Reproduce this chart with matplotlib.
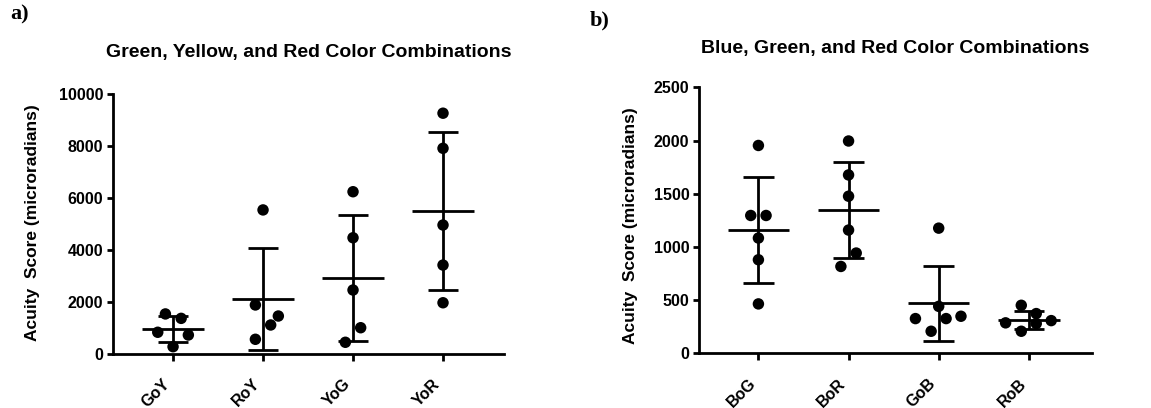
import numpy as np
import matplotlib
matplotlib.use("Agg")
import matplotlib.pyplot as plt

plt.rcParams['font.family'] = ['Liberation Sans', 'DejaVu Sans']
plt.rcParams['font.weight'] = 'bold'

# panel a: green / yellow / red
cats_a = ['GoY', 'RoY', 'YoG', 'YoR']
vals_a = [
    [1540, 1370, 835, 730, 280],
    [5540, 1885, 1460, 1115, 565],
    [6240, 4470, 2460, 1010, 450],
    [9260, 7910, 4960, 3420, 1970],
]
jit_a = [
    [-0.085, 0.09, -0.17, 0.17, 0],
    [0, -0.085, 0.17, 0.085, -0.085],
    [0, 0, 0, 0.085, -0.085],
    [0, 0, 0, 0, 0],
]

# panel b: blue / green / red
cats_b = ['BoG', 'BoR', 'GoB', 'RoB']
vals_b = [
    [1955, 1297, 1297, 1085, 881, 466],
    [1997, 1678, 1478, 1160, 944, 818],
    [1178, 443, 328, 328, 350, 209],
    [453, 288, 375, 281, 309, 209],
]
jit_b = [
    [0, -0.085, 0.085, 0, 0, 0],
    [0, 0, 0, 0, 0.085, -0.085],
    [0, 0, -0.258, 0.082, 0.247, -0.084],
    [-0.084, -0.258, 0.082, 0.082, 0.248, -0.084],
]

fig = plt.figure(figsize=(11.51, 4.08), dpi=100)
ax1 = fig.add_axes([0.0982, 0.1324, 0.3397, 0.6373])
ax2 = fig.add_axes([0.6073, 0.1336, 0.3414, 0.652])


def draw(ax, cats, vals, jit, ymax, step, xlim, title, title_y, lab_x, lab_y):
    for i, (v, j) in enumerate(zip(vals, jit)):
        v = np.array(v, dtype=float)
        m = v.mean()
        sd = v.std(ddof=1)
        ax.hlines(m, i - 0.34, i + 0.34, color='black', lw=2)
        ax.hlines([m - sd, m + sd], i - 0.17, i + 0.17, color='black', lw=2)
        ax.vlines(i, m - sd, m + sd, color='black', lw=2)
        ax.scatter(i + np.array(j), v, s=68, color='black', zorder=3,
                   edgecolors='none', clip_on=False)
    ax.set_xlim(*xlim)
    ax.set_ylim(0, ymax)
    ax.set_yticks(np.arange(0, ymax + 1, step))
    ax.set_xticks(range(len(cats)))
    ax.set_xticklabels(cats, rotation=45, ha='right', va='top')
    for s in ['top', 'right']:
        ax.spines[s].set_visible(False)
    for s in ['left', 'bottom']:
        ax.spines[s].set_linewidth(2)
    ax.tick_params(axis='y', width=2, length=4, pad=3, labelsize=11.5)
    ax.tick_params(axis='x', width=2, length=5, pad=11, labelsize=11.5)
    ax.set_ylabel('Acuity  Score (microradians)', fontsize=12.5, fontweight='bold')
    ax.yaxis.set_label_coords(lab_x, lab_y)
    pos = ax.get_position()
    fig.text(pos.x0 + pos.width / 2, title_y, title, fontsize=14,
             fontweight='bold', ha='center', va='center')


draw(ax1, cats_a, vals_a, jit_a, 10000, 2000, (-0.667, 3.678),
     'Green, Yellow, and Red Color Combinations', 0.871, -0.187, 0.504)
draw(ax2, cats_b, vals_b, jit_b, 2500, 500, (-0.659, 3.70),
     'Blue, Green, and Red Color Combinations', 0.882, -0.156, 0.48)

fig.text(0.0087, 0.988, 'a)', family='Liberation Serif', fontweight='bold',
         fontsize=16, va='top', ha='left')
fig.text(0.5126, 0.975, 'b)', family='Liberation Serif', fontweight='bold',
         fontsize=16, va='top', ha='left')

fig.savefig('out.png', dpi=100)
